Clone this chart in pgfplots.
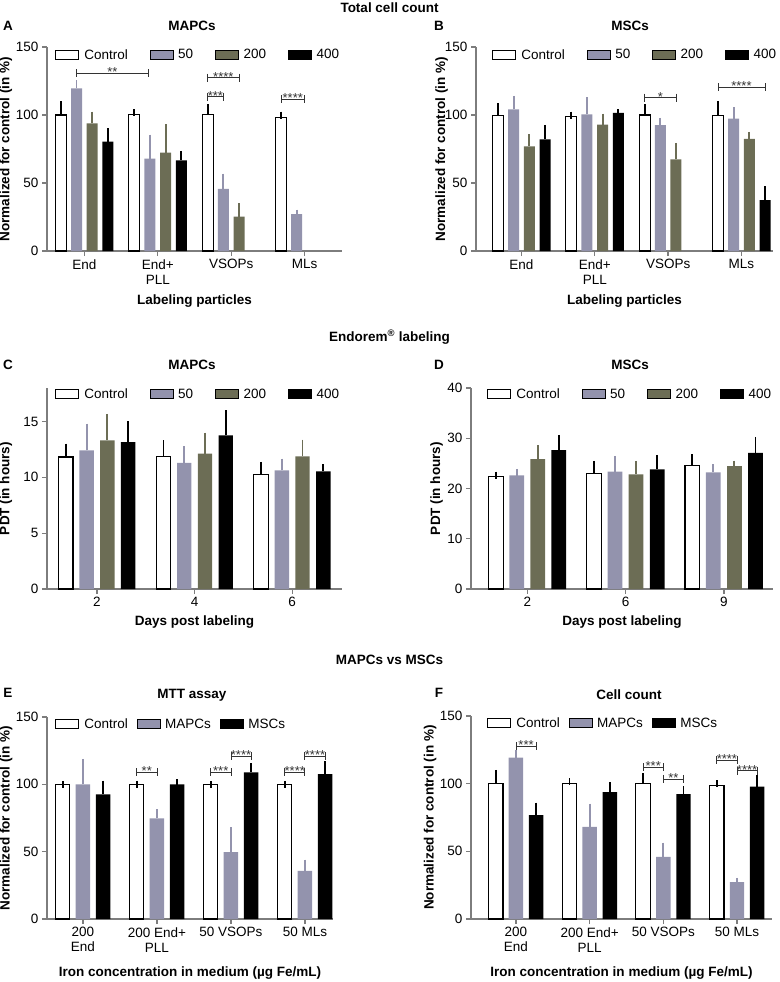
\documentclass[border=0pt]{standalone}
\usepackage{fontspec}
\setmainfont{Liberation Sans}
\usepackage{pgfplots}
\pgfplotsset{compat=1.18}

\definecolor{lav}{RGB}{147,147,173}
\definecolor{olv}{RGB}{108,109,85}
\definecolor{axg}{RGB}{125,125,125}

\newcommand{\fs}{\fontsize{13.5}{15}\selectfont}
\newcommand{\fb}{\fontsize{13.5}{15}\selectfont\bfseries}

% significance bracket: x1, x2, y, stars
\newcommand{\sig}[4]{%
  \draw[black!80, line width=0.8pt] (axis cs:#1,#3) -- node[midway, anchor=base, yshift=-3.5pt, inner sep=0pt, font=\fontsize{13}{13}\selectfont] {#4} (axis cs:#2,#3);
  \draw[black!80, line width=0.8pt] ([yshift=4pt]axis cs:#1,#3) -- ([yshift=-4pt]axis cs:#1,#3);
  \draw[black!80, line width=0.8pt] ([yshift=4pt]axis cs:#2,#3) -- ([yshift=-4pt]axis cs:#2,#3);
}

\pgfplotsset{
  panel/.style={
    scale only axis, ybar, ymin=0, enlargelimits=false, clip=false,
    axis x line*=bottom, axis y line*=left,
    axis line style={axg, line width=1.3pt},
    tick style={axg, line width=1.3pt},
    tick align=outside, major tick length=5pt,
    xtick={0,1,2,3},
    /pgf/number format/assume math mode=true,
    tick label style={font=\fs, black},
    xticklabel style={align=center},
    label style={font=\fb},
    error bars/y dir=plus, error bars/y explicit,
    legend style={draw=none, fill=none, inner sep=0pt, font=\fs, anchor=west},
    legend cell align=left,
    legend image code/.code={\draw[##1] (0pt,-4.5pt) rectangle (23pt,4.5pt);},
  },
  ctrl/.style={fill=white, draw=black, line width=1.1pt,
    error bars/error bar style={black, line width=1.8pt},
    error bars/error mark options={black, line width=1.8pt, mark size=3.5pt}},
  c50/.style={fill=lav, draw=none,
    error bars/error bar style={lav, line width=1.8pt},
    error bars/error mark options={lav, line width=1.8pt, mark size=3.5pt}},
  c200/.style={fill=olv, draw=none,
    error bars/error bar style={olv, line width=1.8pt},
    error bars/error mark options={olv, line width=1.8pt, mark size=3.5pt}},
  c400/.style={fill=black, draw=none,
    error bars/error bar style={black, line width=1.8pt},
    error bars/error mark options={black, line width=1.8pt, mark size=3.5pt}},
  four/.style={legend columns=4,
    legend style={/tikz/every odd column/.append style={column sep=3pt},
                  /tikz/every even column/.append style={column sep=20pt}}},
  three/.style={legend columns=3,
    legend style={/tikz/every odd column/.append style={column sep=3pt},
                  /tikz/every even column/.append style={column sep=7pt}}},
}

\begin{document}
\begin{tikzpicture}
\path[use as bounding box] (0,0) rectangle (779pt,-982pt);

% headings
\node[font=\fb] at (389.5pt,-8pt) {Total cell count};
\node[font=\fb] at (389.5pt,-337pt) {Endorem\textsuperscript{®} labeling};
\node[font=\fb] at (389.5pt,-660pt) {MAPCs vs MSCs};

\node[font=\fb] at (8pt,-26pt) {A};
\node[font=\fb] at (439pt,-26pt) {B};
\node[font=\fb] at (8pt,-365pt) {C};
\node[font=\fb] at (439pt,-365pt) {D};
\node[font=\fb] at (8pt,-693pt) {E};
\node[font=\fb] at (439pt,-693pt) {F};

\node[font=\fb] at (192pt,-26pt) {MAPCs};
\node[font=\fb] at (630pt,-26pt) {MSCs};
\node[font=\fb] at (192pt,-365pt) {MAPCs};
\node[font=\fb] at (630pt,-365pt) {MSCs};
\node[font=\fb] at (192pt,-695pt) {MTT assay};
\node[font=\fb] at (629pt,-695pt) {Cell count};

% ---------------- A
\begin{axis}[panel, four, at={(47pt,-251pt)}, anchor=south west,
  width=295pt, height=204pt, ymax=150, ytick={0,50,100,150},
  xmin=-0.509, xmax=3.51, bar width=0.15,
  xticklabels={End,{End+\\PLL},VSOPs,MLs},
  xlabel={Labeling particles}, ylabel={Normalized for control (in \%)},
  xlabel style={at={(axis description cs:0.5,0)}, anchor=center, yshift=-50pt},
  ylabel style={at={(axis description cs:-0.139,0.5)}, anchor=center},
  legend style={at={(axis description cs:0.027,0.961)}}]
\addplot[ctrl, bar shift=-0.321] coordinates {(0,100) +- (0,7.6) (1,100.5) +- (0,1) (2,100.5) +- (0,5) (3,98.3) +- (0,1.7)};
\addlegendentry{Control}
\addplot[c50, bar shift=-0.107] coordinates {(0,119.5) +- (0,3.5) (1,68) +- (0,15) (2,45.7) +- (0,8.6) (3,27.2) +- (0,0.7)};
\addlegendentry{50}
\addplot[c200, bar shift=0.107] coordinates {(0,93.8) +- (0,6.2) (1,72.3) +- (0,18.3) (2,25.2) +- (0,7.4)};
\addlegendentry{200}
\addplot[c400, bar shift=0.321] coordinates {(0,80.5) +- (0,7.2) (1,66.7) +- (0,4.3)};
\addlegendentry{400}
\sig{-0.107}{0.87}{130.7}{**}
\sig{1.679}{2.107}{127.4}{****}
\sig{1.679}{1.893}{113.5}{***}
\sig{2.679}{3.0}{111.5}{****}
\end{axis}

% ---------------- B
\begin{axis}[panel, four, at={(476pt,-251pt)}, anchor=south west,
  width=297pt, height=204pt, ymax=150, ytick={0,50,100,150},
  xmin=-0.62, xmax=3.43, bar width=0.15,
  xticklabels={End,{End+\\PLL},VSOPs,MLs},
  xlabel={Labeling particles}, ylabel={Normalized for control (in \%)},
  xlabel style={at={(axis description cs:0.5,0)}, anchor=center, yshift=-50pt},
  ylabel style={at={(axis description cs:-0.1155,0.5)}, anchor=center},
  legend style={at={(axis description cs:0.054,0.961)}}]
\addplot[ctrl, bar shift=-0.321] coordinates {(0,99.8) +- (0,6.2) (1,98.8) +- (0,1.2) (2,100) +- (0,5.4) (3,99.8) +- (0,8.1)};
\addlegendentry{Control}
\addplot[c50, bar shift=-0.107] coordinates {(0,104.2) +- (0,7.2) (1,100.5) +- (0,10.1) (2,92.6) +- (0,2.7) (3,97.3) +- (0,5.7)};
\addlegendentry{50}
\addplot[c200, bar shift=0.107] coordinates {(0,77) +- (0,6.2) (1,93) +- (0,5.5) (2,67.4) +- (0,9.6) (3,82.5) +- (0,2.5)};
\addlegendentry{200}
\addplot[c400, bar shift=0.321] coordinates {(0,82) +- (0,8.1) (1,101.5) +- (0,0) (3,37.5) +- (0,7.5)};
\addlegendentry{400}
\sig{1.679}{2.107}{112.7}{*}
\sig{2.679}{3.321}{120.3}{****}
\end{axis}

% ---------------- C
\begin{axis}[panel, four, at={(47pt,-589pt)}, anchor=south west,
  width=295pt, height=201pt, ymax=18, ytick={0,5,10,15},
  xmin=-0.512, xmax=2.51, bar width=0.147, xtick={0,1,2},
  xticklabels={2,4,6},
  xlabel={Days post labeling}, ylabel={PDT (in hours)},
  xlabel style={at={(axis description cs:0.5,0)}, anchor=center, yshift=-32.7pt},
  ylabel style={at={(axis description cs:-0.139,0.5)}, anchor=center},
  legend style={at={(axis description cs:0.027,0.970)}}]
\addplot[ctrl, bar shift=-0.319] coordinates {(0,11.82) +- (0,0.89) (1,11.88) +- (0,1.12) (2,10.25) +- (0,0.83)};
\addlegendentry{Control}
\addplot[c50, bar shift=-0.106] coordinates {(0,12.41) +- (0,2.08) (1,11.29) +- (0,1.18) (2,10.63) +- (0,0.74)};
\addlegendentry{50}
\addplot[c200, bar shift=0.106] coordinates {(0,13.3) +- (0,2.08) (1,12.12) +- (0,1.57) (2,11.88) +- (0,1.19)};
\addlegendentry{200}
\addplot[c400, bar shift=0.319] coordinates {(0,13.16) +- (0,1.54) (1,13.75) +- (0,1.93) (2,10.54) +- (0,0.3)};
\addlegendentry{400}
\end{axis}

% ---------------- D
\begin{axis}[panel, four, at={(471pt,-589pt)}, anchor=south west,
  width=302pt, height=201pt, ymax=40, ytick={0,10,20,30,40},
  xmin=-0.573, xmax=2.5, bar width=0.15, xtick={0,1,2},
  xticklabels={2,6,9},
  xlabel={Days post labeling}, ylabel={PDT (in hours)},
  xlabel style={at={(axis description cs:0.5,0)}, anchor=center, yshift=-32.7pt},
  ylabel style={at={(axis description cs:-0.1136,0.5)}, anchor=center},
  legend style={at={(axis description cs:0.053,0.970)}}]
\addplot[ctrl, bar shift=-0.321] coordinates {(0,22.35) +- (0,0.33) (1,23.0) +- (0,1.8) (2,24.5) +- (0,1.6)};
\addlegendentry{Control}
\addplot[c50, bar shift=-0.107] coordinates {(0,22.6) +- (0,0.6) (1,23.34) +- (0,2.46) (2,23.2) +- (0,0.9)};
\addlegendentry{50}
\addplot[c200, bar shift=0.107] coordinates {(0,25.85) +- (0,2.05) (1,22.8) +- (0,2.0) (2,24.46) +- (0,0.4)};
\addlegendentry{200}
\addplot[c400, bar shift=0.321] coordinates {(0,27.64) +- (0,2.36) (1,23.8) +- (0,2.2) (2,27.1) +- (0,2.5)};
\addlegendentry{400}
\end{axis}

% ---------------- E
\begin{axis}[panel, three, at={(47pt,-919pt)}, anchor=south west,
  width=286pt, height=202pt, ymax=150, ytick={0,50,100,150},
  xmin=-0.486, xmax=3.38, bar width=0.196,
  xticklabels={{200\\End},{200 End+\\PLL},50 VSOPs,50 MLs},
  xlabel={Iron concentration in medium (µg Fe/mL)}, ylabel={Normalized for control (in \%)},
  xlabel style={at={(axis description cs:0.5,0)}, anchor=center, yshift=-54.3pt},
  ylabel style={at={(axis description cs:-0.143,0.5)}, anchor=center},
  legend style={at={(axis description cs:0.028,0.965)}}]
\addplot[ctrl, bar shift=-0.274] coordinates {(0,100) +- (0,0) (1,100) +- (0,0) (2,100) +- (0,0) (3,100) +- (0,0)};
\addlegendentry{Control}
\addplot[c50, bar shift=0] coordinates {(0,100) +- (0,16.3) (1,74.8) +- (0,4.2) (2,49.6) +- (0,15.8) (3,35.8) +- (0,5.7)};
\addlegendentry{MAPCs}
\addplot[c400, bar shift=0.274] coordinates {(0,92.6) +- (0,7.6) (1,100) +- (0,1.2) (2,108.8) +- (0,4.2) (3,107.6) +- (0,6.9)};
\addlegendentry{MSCs}
\sig{0.726}{1.0}{109}{**}
\sig{1.726}{2.0}{109}{***}
\sig{2.0}{2.274}{121}{****}
\sig{2.726}{3.0}{109}{****}
\sig{3.0}{3.274}{121}{****}
\end{axis}

% ---------------- F
\begin{axis}[panel, three, at={(471pt,-919pt)}, anchor=south west,
  width=301pt, height=203pt, ymax=150, ytick={0,50,100,150},
  xmin=-0.61, xmax=3.475, bar width=0.196,
  xticklabels={{200\\End},{200 End+\\PLL},50 VSOPs,50 MLs},
  xlabel={Iron concentration in medium (µg Fe/mL)}, ylabel={Normalized for control (in \%)},
  xlabel style={at={(axis description cs:0.5,0)}, anchor=center, yshift=-54.3pt},
  ylabel style={at={(axis description cs:-0.136,0.5)}, anchor=center},
  legend style={at={(axis description cs:0.053,0.965)}}]
\addplot[ctrl, bar shift=-0.274] coordinates {(0,100) +- (0,7.6) (1,100) +- (0,1.5) (2,100) +- (0,5.2) (3,98.5) +- (0,1.3)};
\addlegendentry{Control}
\addplot[c50, bar shift=0] coordinates {(0,119.3) +- (0,2.9) (1,68.1) +- (0,14.6) (2,45.9) +- (0,7.9) (3,27.2) +- (0,0.7)};
\addlegendentry{MAPCs}
\addplot[c400, bar shift=0.274] coordinates {(0,76.8) +- (0,6.7) (1,93.8) +- (0,4.5) (2,92.3) +- (0,3.5) (3,97.8) +- (0,5.7)};
\addlegendentry{MSCs}
\sig{0.0}{0.274}{127.5}{***}
\sig{1.726}{2.0}{112}{***}
\sig{2.0}{2.274}{103.5}{**}
\sig{2.726}{3.0}{117.5}{****}
\sig{3.0}{3.274}{109.6}{****}
\end{axis}
\end{tikzpicture}
\end{document}
